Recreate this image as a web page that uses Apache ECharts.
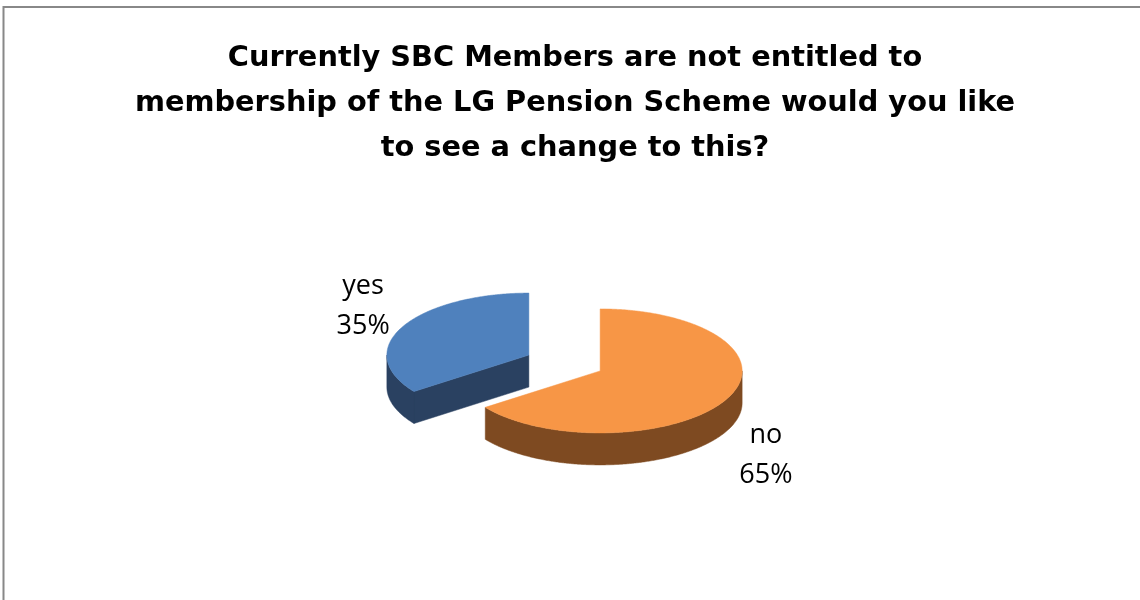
<!DOCTYPE html>
<html>
<head>
<meta charset="utf-8">
<script src="https://cdn.jsdelivr.net/npm/echarts@6/dist/echarts.min.js"></script>
<style>
  html, body { margin: 0; padding: 0; background: #ffffff; }
  #chart { width: 1140px; height: 600px; }
</style>
</head>
<body>
<div id="chart"></div>
<script>
// Survey answers, listed clockwise from 12 o'clock
const titleLines = [
  'Currently SBC Members are not entitled to',
  'membership of the LG Pension Scheme would you like',
  'to see a change to this?'
];
const categories = ['no', 'yes'];
const values = [65, 35];

// Face colours of each slice (top surface / side walls)
const topColors = ['#F79646', '#4F81BD'];
const sideColors = ['#7E4A21', '#2A4161'];

const total = values.reduce((a, b) => a + b, 0);

// Tilted-disc geometry of the 3D pie
const PIE = { cx: 564.5, cy: 363, rx: 142, ry: 62, depth: 32, explode: 40 };
const FONT = '"Open Sans", "Liberation Sans", sans-serif';
const TITLE_FONT = '"DejaVu Sans", "Open Sans", sans-serif';

function rimPoint(c, a, dy) {
  return [c[0] + PIE.rx * Math.sin(a), c[1] - PIE.ry * Math.cos(a) + (dy || 0)];
}
function arcPoints(c, a0, a1, dy) {
  const n = Math.max(2, Math.ceil(Math.abs(a1 - a0) / (Math.PI / 360)));
  const pts = [];
  for (let k = 0; k <= n; k++) pts.push(rimPoint(c, a0 + (a1 - a0) * k / n, dy));
  return pts;
}

function renderSlice(params, api) {
  const i = params.dataIndex;
  let start = 0;
  for (let k = 0; k < i; k++) start += values[k] / total * Math.PI * 2;
  const a0 = start;
  const a1 = start + api.value(0) / total * Math.PI * 2;
  const mid = (a0 + a1) / 2;
  const c = [
    PIE.cx + PIE.explode * Math.sin(mid),
    PIE.cy - PIE.explode * Math.cos(mid) * PIE.ry / PIE.rx
  ];
  const base = Math.round(c[1]) * 10;
  const side = sideColors[i];
  const children = [];

  // radial cut faces that turn toward the viewer
  const face = (a) => {
    const p = rimPoint(c, a, 0);
    children.push({
      type: 'polygon', z2: base + 1,
      shape: { points: [c, p, [p[0], p[1] + PIE.depth], [c[0], c[1] + PIE.depth]] },
      style: { fill: side, stroke: side, lineWidth: 0.5 }
    });
  };
  if (Math.sin(a0) < -1e-6) face(a0);
  if (Math.sin(a1) > 1e-6) face(a1);

  // curved outer wall on the front half of the disc
  const s = Math.max(a0, Math.PI / 2);
  const e = Math.min(a1, Math.PI * 1.5);
  if (e > s) {
    const pts = arcPoints(c, s, e, 0).concat(arcPoints(c, e, s, PIE.depth));
    children.push({
      type: 'polygon', z2: base + 2,
      shape: { points: pts },
      style: { fill: side, stroke: side, lineWidth: 0.5 }
    });
  }

  // top surface
  children.push({
    type: 'polygon', z2: base + 3,
    shape: { points: [c].concat(arcPoints(c, a0, a1, 0)) },
    style: { fill: topColors[i], stroke: topColors[i], lineWidth: 0.5 }
  });

  // category + percentage label outside the rim
  const lx = c[0] + 1.31 * PIE.rx * Math.sin(mid);
  const ly = c[1] - 1.74 * PIE.ry * Math.cos(mid) + (Math.cos(mid) < 0 ? PIE.depth + 3 : 0);
  children.push({
    type: 'text', z2: base + 4,
    x: lx, y: ly,
    style: {
      text: categories[i] + '\n' + Math.round(api.value(0) / total * 100) + '%',
      fill: '#000000',
      font: '27px ' + FONT,
      lineHeight: 40,
      align: 'center',
      verticalAlign: 'middle'
    }
  });

  return { type: 'group', children: children };
}

const chart = echarts.init(document.getElementById('chart'), null, { renderer: 'canvas' });
chart.setOption({
  animation: false,
  backgroundColor: '#ffffff',
  title: {
    text: titleLines.join('\n'),
    left: 570,
    top: 31,
    textAlign: 'center',
    textStyle: {
      fontFamily: TITLE_FONT,
      fontWeight: 'bold',
      fontSize: 28.8,
      lineHeight: 45,
      color: '#000000'
    }
  },
  graphic: [{
    type: 'rect',
    silent: true,
    shape: { x: 3.5, y: 7, width: 1300, height: 800 },
    style: { fill: 'none', stroke: '#888888', lineWidth: 2 }
  }],
  series: [{
    type: 'custom',
    coordinateSystem: 'none',
    silent: true,
    data: values.map((v, i) => ({ name: categories[i], value: [v] })),
    renderItem: renderSlice
  }]
});
</script>
</body>
</html>
